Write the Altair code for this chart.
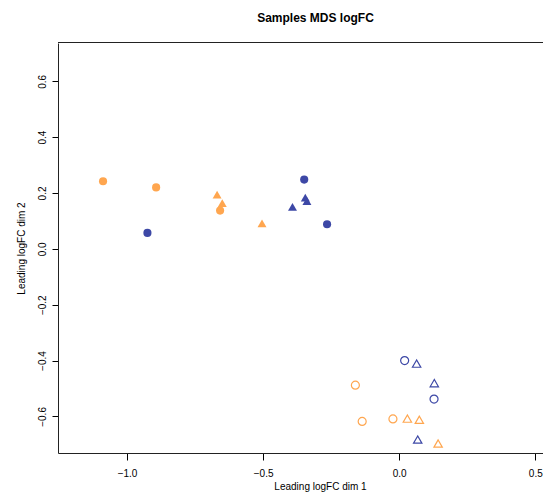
import altair as alt
import pandas as pd

# Leading logFC dim 1 / dim 2 values
dim1 = [-1.088, -0.893, -0.669, -0.650, -0.658, -0.504,
        -0.925, -0.349, -0.345, -0.339, -0.392, -0.265,
        0.020, 0.064, 0.129, 0.128,
        -0.161, -0.136, -0.023, 0.030, 0.074,
        0.068, 0.143]
dim2 = [0.242, 0.220, 0.194, 0.164, 0.137, 0.091,
        0.057, 0.248, 0.183, 0.171, 0.150, 0.088,
        -0.400, -0.411, -0.481, -0.538,
        -0.488, -0.618, -0.609, -0.608, -0.612,
        -0.683, -0.697]
group = ["orange", "orange", "orange", "orange", "orange", "orange",
         "blue", "blue", "blue", "blue", "blue", "blue",
         "blue", "blue", "blue", "blue",
         "orange", "orange", "orange", "orange", "orange",
         "blue", "orange"]
shape = ["circle", "circle", "triangle", "triangle", "circle", "triangle",
         "circle", "circle", "triangle", "triangle", "triangle", "circle",
         "circle", "triangle", "triangle", "circle",
         "circle", "circle", "circle", "triangle", "triangle",
         "triangle", "triangle"]
filled = [True] * 12 + [False] * 11

x_ticks = [-1.0, -0.5, 0.0, 0.5]
y_ticks = [-0.6, -0.4, -0.2, 0.0, 0.2, 0.4, 0.6]

df = pd.DataFrame({"dim1": dim1, "dim2": dim2, "group": group,
                   "shape": shape, "filled": filled})

FRAME = "#222222"
W, H = 485, 410
color_scale = alt.Scale(domain=["orange", "blue"], range=["#FFA64F", "#3D48A6"])
xs = alt.Scale(domain=[-1.2535, 0.5283], nice=False, zero=False)
ys = alt.Scale(domain=[-0.731, 0.737], nice=False, zero=False)

x_enc = alt.X("dim1:Q", scale=xs, title="Leading logFC dim 1",
              axis=alt.Axis(values=x_ticks, format=".1f", grid=False,
                            domain=True, domainColor=FRAME,
                            tickSize=7, labelPadding=8, titleX=262, titleY=36,
                            titleAlign="center", titleBaseline="alphabetic"))
y_enc = alt.Y("dim2:Q", scale=ys, title="Leading logFC dim 2",
              axis=alt.Axis(values=y_ticks, format=".1f", grid=False,
                            domain=True, domainColor=FRAME,
                            tickSize=6, labelPadding=5, labelAngle=270,
                            labelAlign="center", labelBaseline="bottom",
                            titleX=-37, titleY=205, titleAngle=270,
                            titleAlign="center", titleBaseline="middle"))

base = alt.Chart(df).encode(x=x_enc, y=y_enc,
                            color=alt.Color("group:N", scale=color_scale, legend=None))

def layer(is_filled, shp, symbol, size):
    return base.transform_filter(
        (alt.datum.filled == is_filled) & (alt.datum.shape == shp)
    ).mark_point(filled=is_filled, shape=symbol, size=size, opacity=1,
                 strokeWidth=1.2)

# top edge of the plot frame (the right edge lies outside the window)
top_edge = alt.Chart(df).mark_rule(color=FRAME, strokeWidth=1).encode(
    x=alt.value(0), x2=alt.value(W), y=alt.value(-0.5)
)

chart = alt.layer(
    layer(True, "circle", "circle", 66),
    layer(True, "triangle", "triangle-up", 80),
    layer(False, "circle", "circle", 64),
    layer(False, "triangle", "triangle-up", 70),
    top_edge,
).properties(
    width=W, height=H,
    title=alt.TitleParams("Samples MDS logFC", anchor="middle", fontSize=12,
                          fontWeight="bold", font="Liberation Sans",
                          color="#000000", offset=17, dx=15),
    autosize=alt.AutoSizeParams(type="none"),
    padding={"left": 50, "top": 35, "right": 0, "bottom": 41},
).configure_view(
    stroke=None
).configure_axis(
    domain=False, tickColor="#000000", labelColor="#000000",
    titleColor="#000000", labelFont="Liberation Sans", titleFont="Liberation Sans",
    labelFontSize=10, titleFontSize=10, titleFontWeight="normal"
)

chart.save("out.html", embed_options={"renderer": "svg", "actions": False})
